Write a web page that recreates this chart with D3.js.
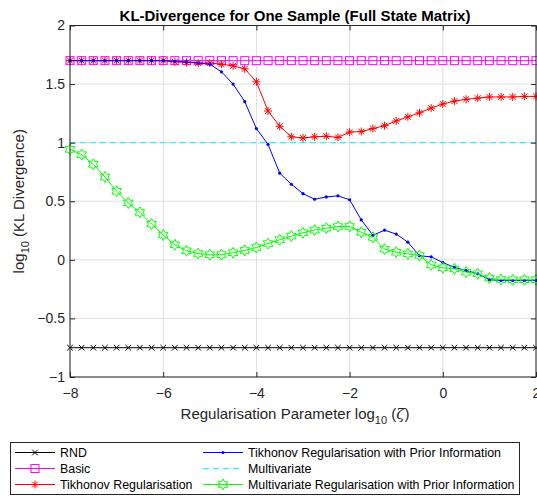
<!DOCTYPE html>
<html>
<head>
<meta charset="utf-8">
<script src="https://cdn.jsdelivr.net/npm/d3@7"></script>
<style>
  html, body { margin: 0; padding: 0; background: #fff; }
  svg { display: block; font-family: "Liberation Sans", Arial, sans-serif; }
</style>
</head>
<body>
<svg id="chart" width="537" height="498"></svg>
<script>
// Regularisation parameter grid: log10(zeta) from -8 to 2 in steps of 0.25
const logZeta = d3.range(41).map(i => -8 + i * 0.25);

// log10 KL divergence for each method
const rnd = logZeta.map(() => -0.75);
const basic = logZeta.map(() => 1.70);
const multivariate = logZeta.map(() => 1.0);

const tikhonov = [
  1.70, 1.70, 1.70, 1.70, 1.70, 1.70, 1.70, 1.70, 1.70,
  1.69, 1.685, 1.68, 1.68, 1.67, 1.655, 1.63, 1.52, 1.27, 1.14,
  1.05, 1.04, 1.05, 1.055, 1.045, 1.09, 1.095, 1.12, 1.145, 1.185,
  1.22, 1.255, 1.295, 1.33, 1.355, 1.37, 1.38, 1.39, 1.39, 1.39, 1.395, 1.395
];

const tikhonovPrior = [
  1.70, 1.70, 1.70, 1.70, 1.70, 1.70, 1.70, 1.70, 1.70,
  1.695, 1.69, 1.68, 1.67, 1.605, 1.50, 1.35, 1.12, 0.985, 0.74,
  0.645, 0.565, 0.517, 0.537, 0.546, 0.513, 0.341, 0.21, 0.253, 0.22,
  0.151, 0.034, 0.026, -0.023, -0.065, -0.091, -0.119, -0.17, -0.176, -0.176, -0.176, -0.175
];

const multivariatePrior = [
  0.943, 0.898, 0.815, 0.707, 0.585, 0.486, 0.405, 0.305, 0.212,
  0.128, 0.077, 0.054, 0.043, 0.045, 0.06, 0.08, 0.105, 0.139, 0.172,
  0.203, 0.231, 0.254, 0.27, 0.284, 0.285, 0.235, 0.192, 0.091, 0.065,
  0.051, 0.037, -0.043, -0.068, -0.077, -0.105, -0.119, -0.156, -0.168, -0.17, -0.17, -0.17
];

const xTicks = [-8, -6, -4, -2, 0, 2];
const yTicks = [-1, -0.5, 0, 0.5, 1, 1.5, 2];

const series = [
  { name: "RND", values: rnd, color: "#000000", marker: "x", dash: null },
  { name: "Basic", values: basic, color: "#ff00ff", marker: "square", dash: null },
  { name: "Tikhonov Regularisation", values: tikhonov, color: "#ff0000", marker: "asterisk", dash: null },
  { name: "Tikhonov Regularisation with Prior Information", values: tikhonovPrior, color: "#0000ff", marker: "dot", dash: null },
  { name: "Multivariate", values: multivariate, color: "#00ffff", marker: null, dash: "6,4" },
  { name: "Multivariate Regularisation with Prior Information", values: multivariatePrior, color: "#00ff00", marker: "hexagram", dash: null }
];

const svg = d3.select("#chart");
const margin = { left: 70, right: 1, top: 25.5, bottom: 121 };
const W = 537, H = 498;
const x = d3.scaleLinear().domain([-8, 2]).range([margin.left, W - margin.right]);
const y = d3.scaleLinear().domain([-1, 2]).range([H - margin.bottom, margin.top]);

const axisColor = "#262626";
const tickFont = 14;

// grid
const grid = svg.append("g");
grid.selectAll("line.vx").data(xTicks).join("line")
  .attr("x1", d => x(d)).attr("x2", d => x(d))
  .attr("y1", y(-1)).attr("y2", y(2))
  .attr("stroke", "#dfdfdf").attr("stroke-width", 1);
grid.selectAll("line.hy").data(yTicks).join("line")
  .attr("x1", x(-8)).attr("x2", x(2))
  .attr("y1", d => y(d)).attr("y2", d => y(d))
  .attr("stroke", "#dfdfdf").attr("stroke-width", 1);

// marker shapes
function hexagramPath(r) {
  const pts = [];
  const ri = r * 0.577;
  for (let k = 0; k < 12; k++) {
    const a = -Math.PI / 2 + k * Math.PI / 6;
    const rr = k % 2 === 0 ? r : ri;
    pts.push([rr * Math.cos(a), rr * Math.sin(a)]);
  }
  return "M" + pts.map(p => p[0].toFixed(2) + "," + p[1].toFixed(2)).join("L") + "Z";
}

function drawMarker(g, type, color) {
  if (type === "x") {
    const s = 2.8;
    g.append("path").attr("d", `M${-s},${-s}L${s},${s}M${-s},${s}L${s},${-s}`)
      .attr("stroke", color).attr("stroke-width", 1).attr("fill", "none");
  } else if (type === "square") {
    const s = 4;
    g.append("rect").attr("x", -s).attr("y", -s).attr("width", 2 * s).attr("height", 2 * s)
      .attr("stroke", color).attr("stroke-width", 1).attr("fill", "none");
  } else if (type === "asterisk") {
    const s = 4, d = 2.9;
    g.append("path").attr("d", `M0,${-s}L0,${s}M${-s},0L${s},0M${-d},${-d}L${d},${d}M${-d},${d}L${d},${-d}`)
      .attr("stroke", color).attr("stroke-width", 1).attr("fill", "none");
  } else if (type === "dot") {
    g.append("circle").attr("r", 1.6).attr("fill", color);
  } else if (type === "hexagram") {
    g.append("path").attr("d", hexagramPath(5.5))
      .attr("stroke", color).attr("stroke-width", 1).attr("fill", "none");
  }
}

const line = d3.line().x((d, i) => x(logZeta[i])).y(d => y(d));

const plot = svg.append("g");
series.forEach(s => {
  plot.append("path").datum(s.values)
    .attr("d", line)
    .attr("fill", "none")
    .attr("stroke", s.color)
    .attr("stroke-width", 1)
    .attr("stroke-dasharray", s.dash);
  if (s.marker) {
    s.values.forEach((v, i) => {
      const g = plot.append("g").attr("transform", `translate(${x(logZeta[i])},${y(v)})`);
      drawMarker(g, s.marker, s.color);
    });
  }
});

// axes box
const axes = svg.append("g");
axes.append("rect")
  .attr("x", x(-8)).attr("y", y(2))
  .attr("width", x(2) - x(-8)).attr("height", y(-1) - y(2))
  .attr("fill", "none").attr("stroke", axisColor).attr("stroke-width", 1);

// bottom axis
const xAxis = d3.axisBottom(x).tickValues(xTicks).tickSize(-5).tickPadding(11).tickFormat(d3.format("d"));
const gx = axes.append("g").attr("transform", `translate(0,${y(-1)})`).call(xAxis);
gx.select(".domain").remove();
gx.selectAll("line").attr("stroke", axisColor);
gx.selectAll("text").attr("fill", axisColor).attr("font-size", tickFont).attr("font-family", "Liberation Sans, Arial, sans-serif");
const gxTop = axes.append("g").attr("transform", `translate(0,${y(2)})`)
  .call(d3.axisTop(x).tickValues(xTicks).tickSize(-5).tickFormat(""));
gxTop.select(".domain").remove();
gxTop.selectAll("line").attr("stroke", axisColor);

// left axis
const yAxis = d3.axisLeft(y).tickValues(yTicks).tickSize(-5).tickPadding(5).tickFormat(d => d3.format("")(d));
const gy = axes.append("g").attr("transform", `translate(${x(-8)},0)`).call(yAxis);
gy.select(".domain").remove();
gy.selectAll("line").attr("stroke", axisColor);
gy.selectAll("text").attr("fill", axisColor).attr("font-size", tickFont).attr("font-family", "Liberation Sans, Arial, sans-serif");
const gyRight = axes.append("g").attr("transform", `translate(${x(2)},0)`)
  .call(d3.axisRight(y).tickValues(yTicks).tickSize(-5).tickFormat(""));
gyRight.select(".domain").remove();
gyRight.selectAll("line").attr("stroke", axisColor);

// title
svg.append("text")
  .attr("x", 295).attr("y", 21)
  .attr("text-anchor", "middle")
  .attr("font-size", 15).attr("font-weight", "bold").attr("fill", "#000")
  .text("KL-Divergence for One Sample (Full State Matrix)");

// x label
const xl = svg.append("text")
  .attr("x", 295).attr("y", 419)
  .attr("text-anchor", "middle")
  .attr("font-size", 15).attr("fill", axisColor);
xl.append("tspan").text("Regularisation Parameter log");
xl.append("tspan").attr("font-size", 11).attr("dy", 5).text("10");
xl.append("tspan").attr("dy", -5).text(" (");
xl.append("tspan").attr("font-style", "italic").attr("font-family", "DejaVu Serif, serif").text("ζ");
xl.append("tspan").text(")");

// y label
const yl = svg.append("text")
  .attr("transform", `translate(24,${y(0.5)}) rotate(-90)`)
  .attr("text-anchor", "middle")
  .attr("font-size", 15).attr("fill", axisColor);
yl.append("tspan").text("log");
yl.append("tspan").attr("font-size", 11).attr("dy", 5).text("10");
yl.append("tspan").attr("dy", -5).text(" (KL Divergence)");

// legend
const legend = svg.append("g");
legend.append("rect")
  .attr("x", 10.5).attr("y", 442.5).attr("width", 509).attr("height", 52)
  .attr("fill", "#fff").attr("stroke", axisColor).attr("stroke-width", 1);

const rowsY = [452.5, 468.5, 484.5];
series.forEach((s, i) => {
  const col = i < 3 ? 0 : 1;
  const row = i % 3;
  const lx = col === 0 ? 15 : 203;
  const ly = rowsY[row];
  const g = legend.append("g");
  g.append("line").attr("x1", lx).attr("x2", lx + 40).attr("y1", ly).attr("y2", ly)
    .attr("stroke", s.color).attr("stroke-width", 1).attr("stroke-dasharray", s.dash);
  if (s.marker) {
    const m = g.append("g").attr("transform", `translate(${lx + 20},${ly})`);
    drawMarker(m, s.marker, s.color);
  }
  g.append("text").attr("x", lx + 45).attr("y", ly + 4.5)
    .attr("font-size", 12.4).attr("fill", "#000").text(s.name);
});
</script>
</body>
</html>
